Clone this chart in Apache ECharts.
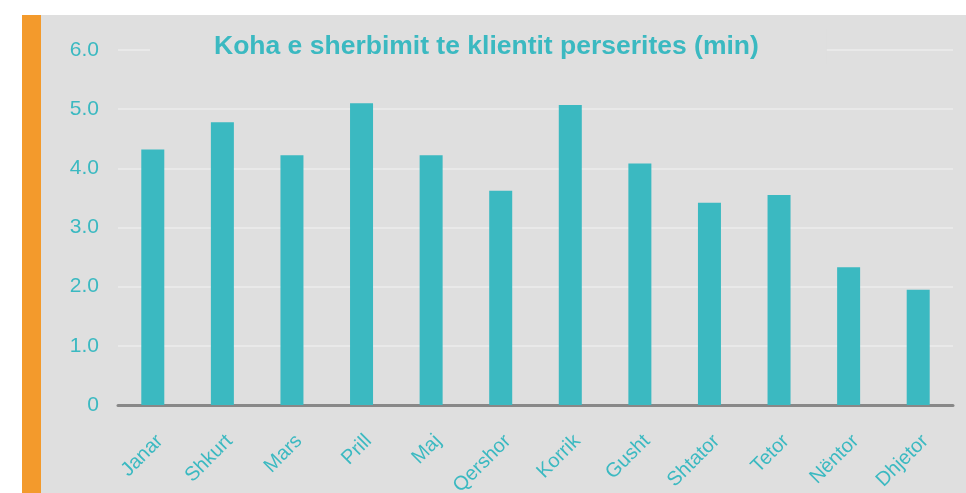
<!DOCTYPE html>
<html>
<head>
<meta charset="utf-8">
<script src="https://cdn.jsdelivr.net/npm/echarts@6/dist/echarts.min.js"></script>
<style>
  html, body { margin: 0; padding: 0; background: #ffffff; }
  #chart { width: 966px; height: 493px; }
</style>
</head>
<body>
<div id="chart"></div>
<script>
// muajt dhe koha mesatare (min)
var months = ['Janar', 'Shkurt', 'Mars', 'Prill', 'Maj', 'Qershor', 'Korrik', 'Gusht', 'Shtator', 'Tetor', 'Nëntor', 'Dhjetor'];
var minutes = [4.32, 4.78, 4.22, 5.10, 4.22, 3.62, 5.07, 4.08, 3.42, 3.55, 2.33, 1.95];
var yTicks = [0, 1, 2, 3, 4, 5, 6];

var teal = '#3bb9c1';
var chart = echarts.init(document.getElementById('chart'));

var option = {
    backgroundColor: '#ffffff',
    animation: false,
    graphic: [
        {type: 'rect', z: -10, shape: {x: 40, y: 15, width: 926, height: 478}, style: {fill: '#dfdfdf'}},
        {type: 'rect', z: -10, shape: {x: 22, y: 15, width: 19, height: 478}, style: {fill: '#f39a2c'}}
    ],
    title: {
        text: 'Koha e sherbimit te klientit perserites (min)',
        left: 150,
        top: 29,
        padding: [4, 68, 4, 64],
        backgroundColor: '#dfdfdf',
        textStyle: {
            color: teal,
            fontSize: 26.5,
            fontWeight: 'bold',
            fontFamily: 'Liberation Sans'
        }
    },
    grid: {left: 118, right: 13, top: 50, bottom: 88, outerBoundsMode: 'none'},
    xAxis: {
        type: 'category',
        data: months,
        axisLine: {lineStyle: {color: '#888888', width: 3}},
        axisTick: {show: false},
        axisLabel: {
            rotate: 45,
            margin: 26,
            verticalAlign: 'top',
            color: teal,
            fontSize: 20,
            fontFamily: 'Liberation Sans'
        }
    },
    yAxis: {
        type: 'value',
        min: yTicks[0],
        max: yTicks[yTicks.length - 1],
        interval: 1,
        axisLine: {show: false},
        axisTick: {show: false},
        splitLine: {lineStyle: {color: '#e9e9e9', width: 2}},
        axisLabel: {
            margin: 19,
            color: teal,
            fontSize: 21,
            fontFamily: 'Liberation Sans',
            formatter: function(v){
                return v === 0 ? '0' : v.toFixed(1);
            }
        }
    },
    series: [{
        type: 'bar',
        data: minutes,
        barWidth: 23,
        itemStyle: {color: teal}
    }]
};
chart.setOption(option);
</script>
</body>
</html>
